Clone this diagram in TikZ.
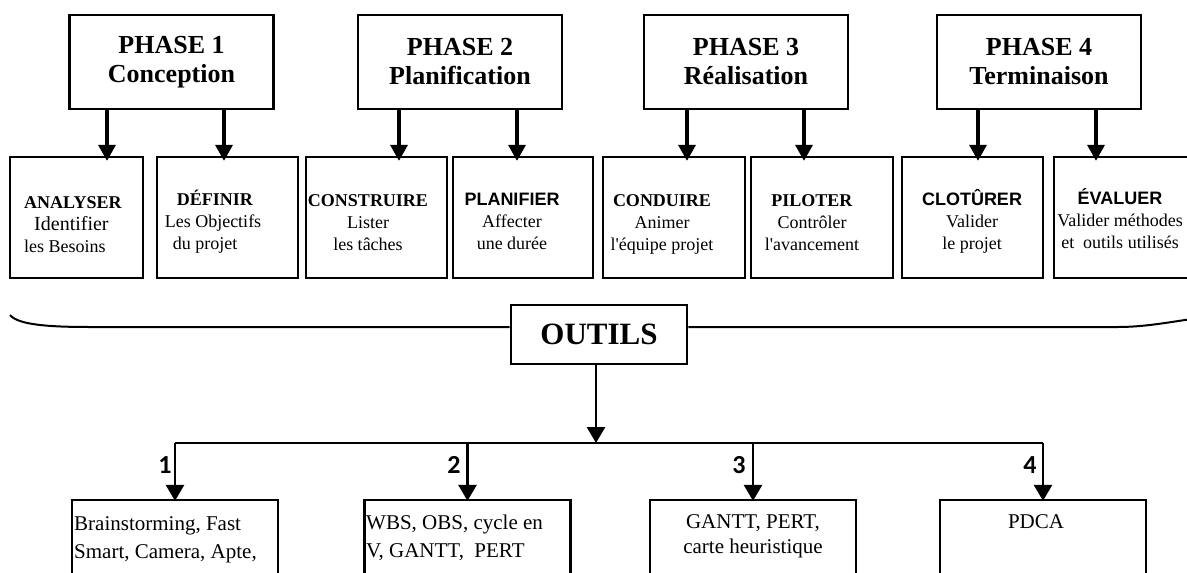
\documentclass[tikz,border=0pt]{standalone}
\usepackage{fontspec}
\setmainfont{Liberation Serif}
\newfontfamily\arialfont{Liberation Sans}
\newfontfamily\calibrifont{Carlito}
\usetikzlibrary{arrows.meta}

\begin{document}
\begin{tikzpicture}[x=1pt,y=-1pt,
  phasebox/.style={draw, line width=2.6pt, minimum width=204pt, minimum height=94pt,
    align=center, inner sep=0pt, font=\bfseries\fontsize{26}{29}\selectfont},
  taskbox/.style={draw, line width=2.3pt, minimum width=141pt, minimum height=121pt, inner sep=0pt},
  tasktext/.style={align=center, inner sep=0pt, anchor=base, font=\fontsize{18}{22}\selectfont},
  toolsbox/.style={draw, line width=2.6pt, minimum width=176pt, minimum height=59pt,
    inner sep=0pt, font=\bfseries\fontsize{31}{34}\selectfont},
  toolbox/.style={draw, line width=2.3pt, minimum width=206pt, minimum height=140pt, inner sep=0pt},
  tooltext/.style={inner sep=0pt, anchor=base, font=\fontsize{21}{28}\selectfont},
  num/.style={inner sep=0pt, font=\calibrifont\bfseries\fontsize{26}{28}\selectfont},
  down/.style={-{Triangle[width=17pt,length=16pt]}, line width=3.4pt},
  branch/.style={-{Triangle[width=18pt,length=16pt]}, line width=2.8pt},
  thin/.style={line width=2pt}
]
\path[use as bounding box] (0,0) rectangle (1187,573);
\clip (0,0) rectangle (1187,573);

% phases
\node[phasebox] (p1) at (171.5,62) {PHASE 1\\Conception};
\node[phasebox] (p2) at (460,62)   {PHASE 2\\Planification};
\node[phasebox] (p3) at (746,62)   {PHASE 3\\Réalisation};
\node[phasebox] (p4) at (1039,62)  {PHASE 4\\Terminaison};

% task boxes
\node[taskbox, minimum width=133pt] (t1) at (76.5,217.5) {};
\node[taskbox] (t2) at (227.5,217.5) {};
\node[taskbox] (t3) at (376.5,217.5) {};
\node[taskbox, minimum width=140pt] (t4) at (523,217.5) {};
\node[taskbox, minimum width=142pt] (t5) at (674,217.5) {};
\node[taskbox, minimum width=142pt] (t6) at (822,217.5) {};
\node[taskbox] (t7) at (972.5,217.5) {};
\node[taskbox] (t8) at (1124.5,217.5) {};

% arrow columns
\coordinate (c1) at (107,0);  \coordinate (c2) at (224,0);
\coordinate (c3) at (399,0);  \coordinate (c4) at (517,0);
\coordinate (c5) at (687,0);  \coordinate (c6) at (804,0);
\coordinate (c7) at (978,0);  \coordinate (c8) at (1096,0);

\draw[down] (p1.south -| c1) -- ([yshift=-5pt]t1.north -| c1);
\draw[down] (p1.south -| c2) -- ([yshift=-5pt]t2.north -| c2);
\draw[down] (p2.south -| c3) -- ([yshift=-5pt]t3.north -| c3);
\draw[down] (p2.south -| c4) -- ([yshift=-5pt]t4.north -| c4);
\draw[down] (p3.south -| c5) -- ([yshift=-5pt]t5.north -| c5);
\draw[down] (p3.south -| c6) -- ([yshift=-5pt]t6.north -| c6);
\draw[down] (p4.south -| c7) -- ([yshift=-5pt]t7.north -| c7);
\draw[down] (p4.south -| c8) -- ([yshift=-5pt]t8.north -| c8);

% task texts (anchored on the baseline of their last line)
\node[tasktext, align=left] (x1) at (73,252)
  {\textbf{ANALYSER}\\\hspace*{10pt}{\fontsize{20}{22}\selectfont Identifier}\\les Besoins};
\node[tasktext, align=left] (x2) at (213,249)
  {\hspace*{12pt}\textbf{DÉFINIR}\\Les Objectifs\\\hspace*{8pt}du projet};
\node[tasktext] (x3) at (368,250) {\textbf{CONSTRUIRE}\\Lister\\les tâches};
\node[tasktext] (x4) at (512,249) {{\arialfont\bfseries PLANIFIER}\\Affecter\\une durée};
\node[tasktext] (x5) at (662,250) {\textbf{CONDUIRE}\\Animer\\l\textquotesingle équipe projet};
\node[tasktext] (x6) at (812,250) {\textbf{PILOTER}\\Contrôler\\l\textquotesingle avancement};
\node[tasktext] (x7) at (972,249) {{\arialfont\bfseries CLOTÛRER}\\Valider\\le projet};
\node[tasktext] (x8) at (1120,248) {{\arialfont\bfseries ÉVALUER}\\Valider méthodes\\et\ \ outils utilisés};

% tools
\node[toolsbox] (tools) at (599,334.5) {OUTILS};
\coordinate (braceL) at (10,315);
\coordinate (bl) at (90,327);
\coordinate (br) at (1118,327);
\coordinate (braceR) at (1192,319);
\draw[thin] (braceL) .. controls (18,325) and (50,327) .. (bl) -- (bl -| tools.west);
\draw[thin] (br -| tools.east) -- (br) .. controls (1145,327) and (1170,322) .. (braceR);

\node[toolbox] (b1) at (175,570) {};
\node[toolbox] (b2) at (467.5,570) {};
\node[toolbox] (b3) at (753,570) {};
\node[toolbox] (b4) at (1043,570) {};

\coordinate (bar) at (0,443);
\draw[thin] (b1.north |- bar) -- (b4.north |- bar);
\draw[branch] (tools.south -| 596,0) -- (596,443);
\draw[branch] (b1.north |- bar) -- ([yshift=-2pt]b1.north);
\draw[branch] (b2.north |- bar) -- ([yshift=-2pt]b2.north);
\draw[branch] (b3.north |- bar) -- ([yshift=-2pt]b3.north);
\draw[branch] (b4.north |- bar) -- ([yshift=-2pt]b4.north);

\node[num] (n1) at (165,465) {1};
\node[num] (n2) at (454,465) {2};
\node[num] (n3) at (739,465) {3};
\node[num] (n4) at (1030,465) {4};

\node[tooltext, align=left, anchor=base west] (y1) at (74,558)
  {Brainstorming, Fast\\Smart, Camera, Apte,};
\node[tooltext, align=left, anchor=base west] (y2) at (366,557)
  {WBS, OBS, cycle en\\V, GANTT,\ \ PERT};
\node[tooltext, align=center, font=\fontsize{21}{25}\selectfont] (y3) at (753,553)
  {GANTT, PERT,\\carte heuristique};
\node[tooltext] (y4) at (1036,528) {PDCA};
\end{tikzpicture}
\end{document}
